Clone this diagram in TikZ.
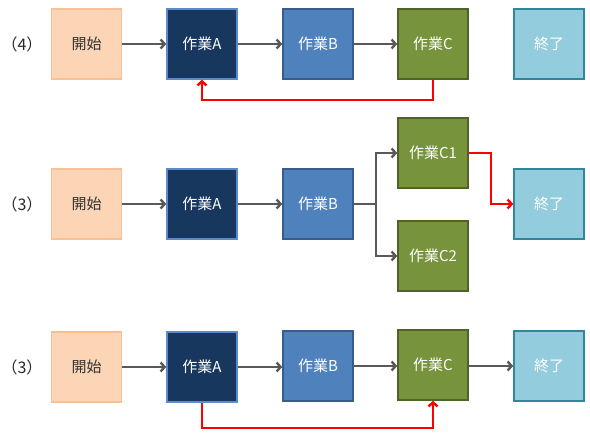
\documentclass[tikz,border=0pt]{standalone}
\usepackage{fontspec}
\setmainfont{Noto Sans CJK JP}
\usepackage{tikz}
\usetikzlibrary{shapes,arrows,arrows.meta,positioning}

\definecolor{startfill}{HTML}{FBD5B5}
\definecolor{startline}{HTML}{F9C093}
\definecolor{afill}{HTML}{17375E}
\definecolor{aline}{HTML}{5B8BC8}
\definecolor{bfill}{HTML}{4F81BD}
\definecolor{bline}{HTML}{385D8A}
\definecolor{cfill}{HTML}{77933C}
\definecolor{cline}{HTML}{4F6228}
\definecolor{endfill}{HTML}{93CDDD}
\definecolor{endline}{HTML}{31859C}
\definecolor{flowgray}{HTML}{595959}

\begin{document}
\begin{tikzpicture}[x=1pt, y=-1pt, >={Straight Barb[length=4pt,width=9pt]}]
			\tikzstyle{Box}		= [rectangle, draw, line width=1.6pt, minimum size=70pt, inner sep=0pt, font=\fontsize{15}{17}\selectfont, text=white]
			\tikzstyle{Start}	= [fill=startfill, draw=startline, text=black!80]
			\tikzstyle{TaskA}	= [fill=afill, draw=aline]
			\tikzstyle{TaskB}	= [fill=bfill, draw=bline]
			\tikzstyle{TaskC}	= [fill=cfill, draw=cline]
			\tikzstyle{End}		= [fill=endfill, draw=endline]
			\tikzstyle{Case}	= [anchor=west, font=\fontsize{16}{18}\selectfont, text=black!85]
			\tikzstyle{Flow}	= [line width=2.4pt, flowgray]
			\tikzstyle{Crit}	= [line width=2.4pt, red]

			\useasboundingbox (0,0) rectangle (590,432);

			% (4)
			\node (n1) at (-2,44) [Case] {（4）};
			\node (s1) at (86.5,44) [Box][Start] {開始};
			\node (a1) at (202,44) [Box][TaskA] {作業A};
			\node (b1) at (318,44) [Box][TaskB] {作業B};
			\node (c1) at (433,44) [Box][TaskC] {作業C};
			\node (e1) at (549,44) [Box][End] {終了};

			\draw [->] (s1) to (a1) [Flow];
			\draw [->] (a1) to (b1) [Flow];
			\draw [->] (b1) to (c1) [Flow];
			\draw [->] (c1.south) -- ++(0,20) -| (a1.south) [Crit];

			% (3) split
			\node (n2) at (-2,204) [Case] {（3）};
			\node (s2) at (86.5,204) [Box][Start] {開始};
			\node (a2) at (202,204) [Box][TaskA] {作業A};
			\node (b2) at (318,204) [Box][TaskB] {作業B};
			\node (c21) at (433,153) [Box][TaskC] {作業C1};
			\node (c22) at (433,256) [Box][TaskC] {作業C2};
			\node (e2) at (549,204) [Box][End] {終了};
			\coordinate (j2) at (376,204);

			\draw [->] (s2) to (a2) [Flow];
			\draw [->] (a2) to (b2) [Flow];
			\draw [-] (b2) to (j2) [Flow];
			\draw [->] (j2) |- (c21) [Flow];
			\draw [->] (j2) |- (c22) [Flow];
			\draw [->] (c21.east) -- ++(22,0) |- (e2.west) [Crit];

			% (3)
			\node (n3) at (-2,367) [Case] {（3）};
			\node (s3) at (86.5,367) [Box][Start] {開始};
			\node (a3) at (202,367) [Box][TaskA] {作業A};
			\node (b3) at (318,366) [Box][TaskB] {作業B};
			\node (c3) at (433,365) [Box][TaskC] {作業C};
			\node (e3) at (549,366) [Box][End] {終了};

			\draw [->] (s3) to (a3) [Flow];
			\draw [->] (a3) to (a3 -| b3.west) [Flow];
			\draw [->] (b3) to (b3 -| c3.west) [Flow];
			\draw [->] (c3.east |- e3) to (e3) [Flow];
			\draw [->] (a3.south) -- ++(0,25) -| (c3.south) [Crit];
		\end{tikzpicture}
\end{document}
